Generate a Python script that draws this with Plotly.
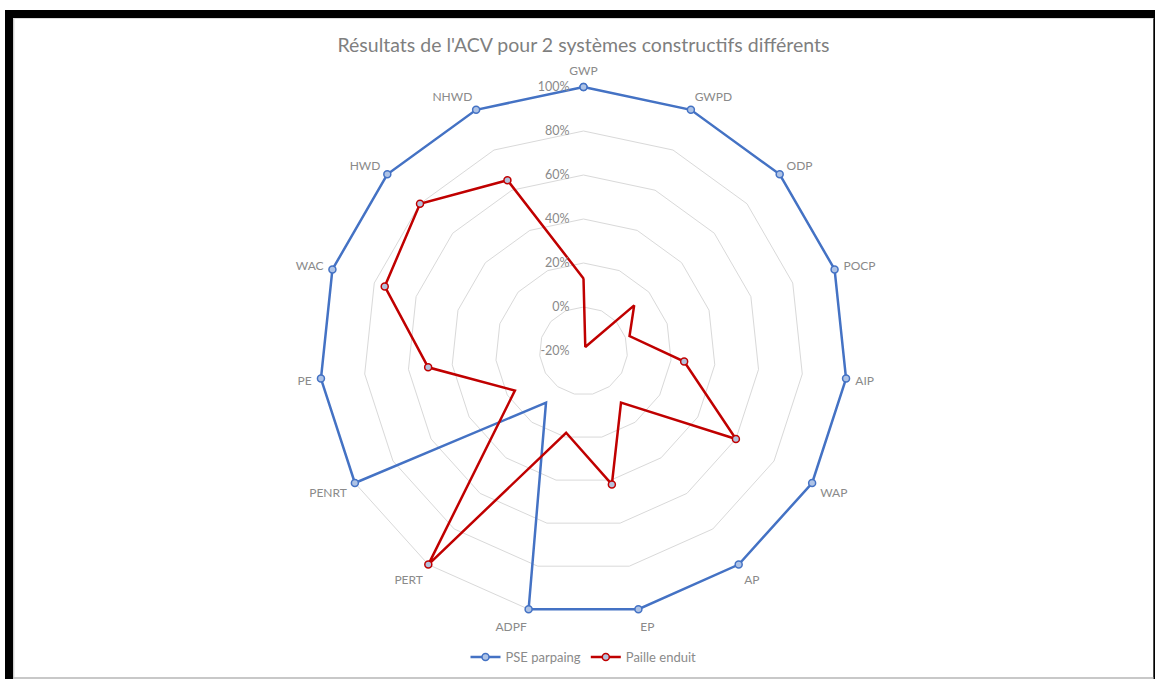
import plotly.graph_objects as go

# Indicateurs ACV (ordre horaire, en partant du haut)
categories = ["GWP", "GWPD", "ODP", "POCP", "AIP", "WAP", "AP", "EP",
              "ADPF", "PERT", "PENRT", "PE", "WAC", "HWD", "NHWD"]

# Résultats normalisés (%)
pse_parpaing = [100, 100, 100, 100, 100, 100, 100, 100, 100, 9, 100, 100, 100, 100, 100]
paille_enduit = [13, -18, 11, 2, 26, 60, 9, 42, 18, 100, 16, 51, 75, 80, 65]

radial_ticks = [-20, 0, 20, 40, 60, 80, 100]
radial_labels = [f"{v}%" for v in radial_ticks]

W, H = 1155, 679
FONT = "Lato, 'Open Sans', sans-serif"
TXT = "#8a8a8a"


def closed(values):
    return values + values[:1]


fig = go.Figure()
fig.add_trace(go.Scatterpolar(
    r=closed(pse_parpaing), theta=closed(categories), name="PSE parpaing",
    mode="lines+markers", cliponaxis=False,
    line=dict(color="#4472C4", width=2.5),
    marker=dict(size=7, color="#aec3e6", line=dict(color="#4472C4", width=1.5)),
))
fig.add_trace(go.Scatterpolar(
    r=closed(paille_enduit), theta=closed(categories), name="Paille enduit",
    mode="lines+markers", cliponaxis=False,
    line=dict(color="#C00000", width=2.5),
    marker=dict(size=7, color="#b4c2dc", line=dict(color="#C00000", width=1.5)),
))

# Centre du radar et rayon (px) ; l'échelle va un peu au-delà de 100 %
# pour que le tracé extérieur ne soit pas rogné
cx, cy, r100 = 583.5, 351, 264
r_min, r_max = -20, 102
rad = r100 * (r_max - r_min) / (100 - r_min)


def px_x(x):
    return x / W


def px_y(y):
    return 1 - y / H


# Cadre noir autour du graphique
frame = [
    dict(x0=5, x1=W, y0=10, y1=18, color="black"),
    dict(x0=5, x1=13.3, y0=10, y1=H, color="black"),
    dict(x0=1153.3, x1=W, y0=10, y1=H, color="black"),
    dict(x0=13.3, x1=1153.3, y0=677, y1=H, color="#c8c8c8"),
    dict(x0=13.3, x1=1153.3, y0=18, y1=19, color="#dcdcdc"),
    dict(x0=13.3, x1=14.5, y0=18, y1=677, color="#dcdcdc"),
]
shapes = [
    dict(type="rect", xref="paper", yref="paper",
         x0=px_x(s["x0"]), x1=px_x(s["x1"]), y0=px_y(s["y1"]), y1=px_y(s["y0"]),
         fillcolor=s["color"], line=dict(width=0), layer="above")
    for s in frame
]

fig.update_layout(
    width=W, height=H,
    margin=dict(l=0, r=0, t=0, b=0),
    paper_bgcolor="white",
    font=dict(family=FONT, color=TXT, size=12),
    title=dict(text="Résultats de l'ACV pour 2 systèmes constructifs différents",
               x=px_x(cx), xanchor="center", y=px_y(45), yanchor="middle",
               font=dict(family=FONT, size=19.5, color="#7f7f7f")),
    polar=dict(
        domain=dict(x=[px_x(cx - rad), px_x(cx + rad)],
                    y=[px_y(cy + rad), px_y(cy - rad)]),
        bgcolor="white",
        gridshape="linear",
        radialaxis=dict(
            range=[r_min, r_max], tickvals=radial_ticks, ticktext=radial_labels,
            angle=90, tickangle=90, side="counterclockwise",
            showline=False, ticks="outside", ticklen=9, tickcolor="rgba(0,0,0,0)",
            gridcolor="#d9d9d9", gridwidth=1,
            tickfont=dict(family=FONT, size=12.5, color=TXT),
        ),
        angularaxis=dict(
            type="category", categoryarray=categories,
            direction="clockwise", rotation=90,
            showgrid=False, showline=False,
            ticks="outside", ticklen=2, tickcolor="rgba(0,0,0,0)",
            tickfont=dict(family=FONT, size=12, color=TXT),
        ),
    ),
    legend=dict(orientation="h", x=px_x(cx), xanchor="center",
                y=px_y(657), yanchor="middle",
                font=dict(family=FONT, size=13, color=TXT),
                bgcolor="rgba(0,0,0,0)"),
    shapes=shapes,
)

fig.write_html("out.html")
